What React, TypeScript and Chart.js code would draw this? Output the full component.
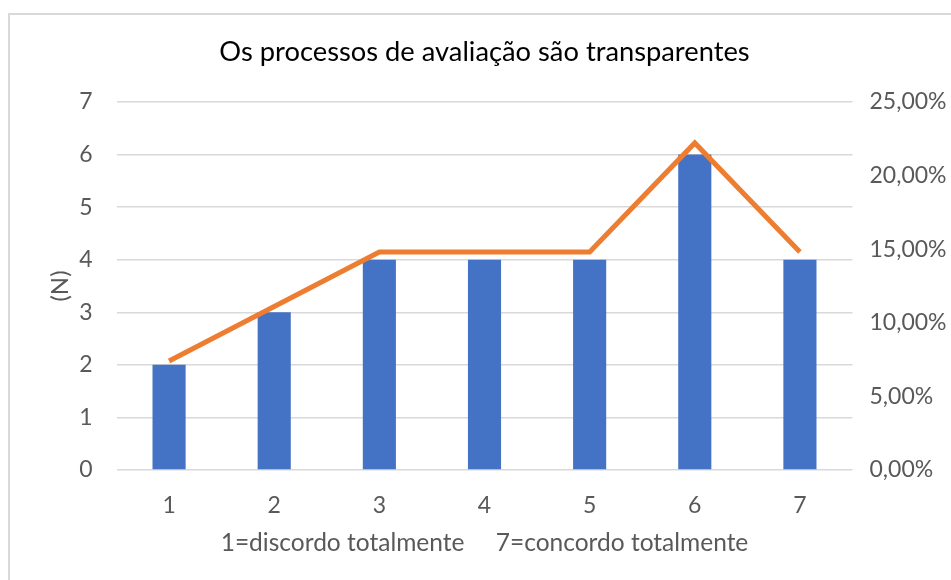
import React, { useEffect, useRef } from "react";
import { Chart, registerables } from "chart.js";

Chart.register(...registerables);

const categories = ["1", "2", "3", "4", "5", "6", "7"];
const counts = [2, 3, 4, 4, 4, 6, 4];
const percentages = [7.41, 11.11, 14.81, 14.81, 14.81, 22.22, 14.81];
const leftTicks = { min: 0, max: 7, step: 1 };
const rightTicks = { min: 0, max: 25, step: 5 };
const titleText = "Os processos de avaliação são transparentes";
const xTitle = "1=discordo totalmente     7=concordo totalmente";
const yTitle = "(N)";

const FONT = "Lato, 'Open Sans', sans-serif";
const GRAY = "#595959";

const borderPlugin = {
  id: "outerBorder",
  beforeDraw(chart: any) {
    const ctx = chart.ctx;
    ctx.save();
    ctx.fillStyle = "#ffffff";
    ctx.fillRect(0, 0, chart.width, chart.height);
    ctx.strokeStyle = "#d9d9d9";
    ctx.lineWidth = 2;
    ctx.strokeRect(9, 14, chart.width + 20, chart.height + 20);
    ctx.restore();
  },
};

export default function App() {
  const ref = useRef<HTMLCanvasElement | null>(null);

  useEffect(() => {
    if (!ref.current) return;
    const chart = new Chart(ref.current, {
      type: "bar",
      data: {
        labels: categories,
        datasets: [
          {
            type: "line",
            label: "%",
            data: percentages,
            yAxisID: "y1",
            borderColor: "#ED7D31",
            borderWidth: 5,
            pointRadius: 0,
            tension: 0,
            order: 0,
          } as any,
          {
            type: "bar",
            label: "N",
            data: counts,
            yAxisID: "y",
            backgroundColor: "#4472C4",
            categoryPercentage: 1,
            barPercentage: 0.315,
            order: 1,
          },
        ],
      },
      options: {
        responsive: false,
        animation: false,
        layout: { padding: 0 },
        plugins: {
          legend: { display: false },
          tooltip: { enabled: false },
          title: {
            display: true,
            fullSize: false,
            text: titleText,
            color: "#000000",
            font: { family: FONT, size: 27.3, weight: "normal" },
            padding: { top: 36, bottom: 33.3 },
          },
        },
        scales: {
          x: {
            grid: { display: false, drawTicks: false },
            border: { display: false },
            ticks: {
              color: GRAY,
              font: { family: FONT, size: 23 },
              padding: 22,
            },
            title: {
              display: true,
              text: xTitle,
              color: GRAY,
              font: { family: FONT, size: 24.5 },
              padding: { top: 0, bottom: 22 },
            },
            afterFit(scale: any) {
              scale.height = 110;
            },
          },
          y: {
            position: "left",
            min: leftTicks.min,
            max: leftTicks.max,
            grid: { color: "#d9d9d9", lineWidth: 1.5, drawTicks: false },
            border: { display: false },
            ticks: {
              stepSize: leftTicks.step,
              color: GRAY,
              font: { family: FONT, size: 23 },
              padding: 24,
            },
            title: {
              display: true,
              text: yTitle,
              color: GRAY,
              font: { family: FONT, size: 24 },
              padding: { top: 45.6, bottom: 0 },
            },
            afterFit(scale: any) {
              scale.width = 116.5;
            },
          },
          y1: {
            position: "right",
            min: rightTicks.min,
            max: rightTicks.max,
            grid: { display: false, drawTicks: false },
            border: { display: false },
            ticks: {
              stepSize: rightTicks.step,
              color: GRAY,
              font: { family: FONT, size: 23 },
              padding: 17,
              callback: (v: any) => Number(v).toFixed(2).replace(".", ",") + "%",
            },
            afterFit(scale: any) {
              scale.width = 98.5;
            },
          },
        },
      },
      plugins: [borderPlugin],
    });
    return () => chart.destroy();
  }, []);

  return (
    <div style={{ position: "fixed", left: 0, top: 0, width: 951, height: 580, overflow: "hidden", background: "#fff" }}>
      <canvas ref={ref} width={951} height={580} style={{ display: "block", width: 951, height: 580 }} />
    </div>
  );
}
